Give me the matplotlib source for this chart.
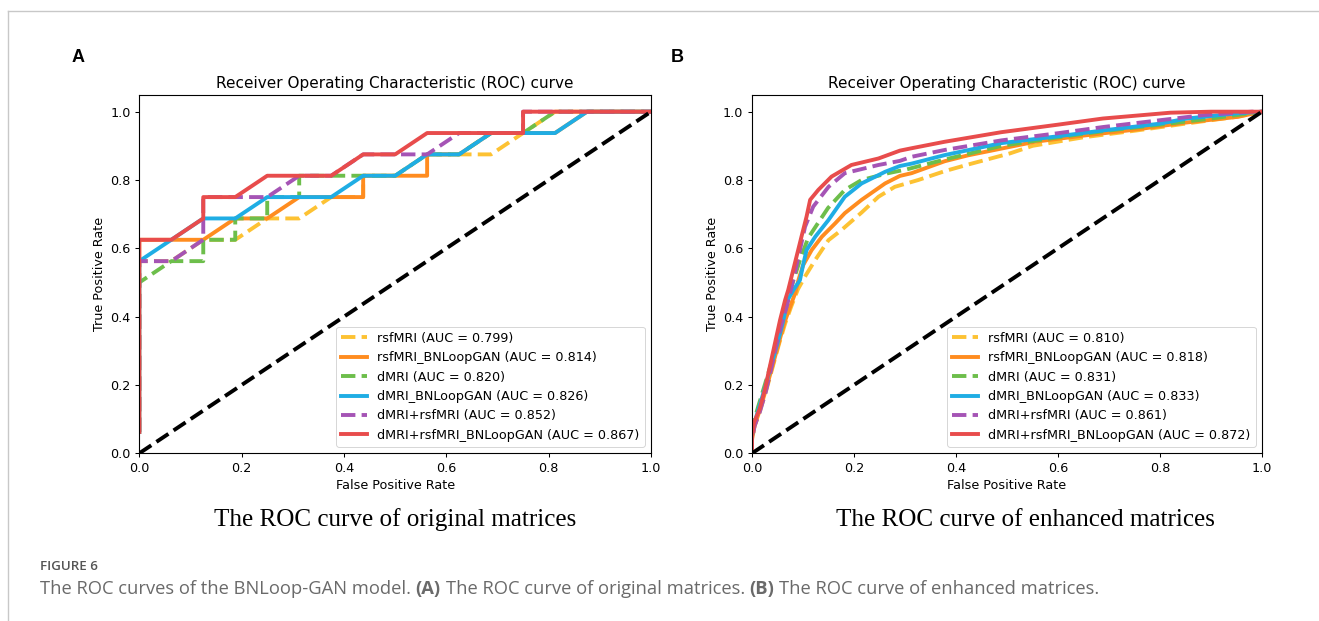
import matplotlib
matplotlib.use("Agg")
import matplotlib.pyplot as plt
from matplotlib.lines import Line2D

W, H = 1319, 621

# ---------------- data: panel A (original matrices) ----------------
a_labels = ["rsfMRI (AUC = 0.799)", "rsfMRI_BNLoopGAN (AUC = 0.814)", "dMRI (AUC = 0.820)",
            "dMRI_BNLoopGAN (AUC = 0.826)", "dMRI+rsfMRI (AUC = 0.852)",
            "dMRI+rsfMRI_BNLoopGAN (AUC = 0.867)"]
a_fpr_rsf = [0, 0, 0.0625, 0.125, 0.1875, 0.25, 0.3125, 0.375, 0.4375, 0.4375, 0.5, 0.5625, 0.6875, 0.75, 0.8125, 1.0]
a_tpr_rsf = [0.0625, 0.5625, 0.5625, 0.625, 0.625, 0.6875, 0.6875, 0.75, 0.75, 0.8125, 0.8125, 0.875, 0.875, 0.9375, 1.0, 1.0]
a_fpr_rsfg = [0, 0, 0.125, 0.1875, 0.25, 0.3125, 0.4375, 0.4375, 0.5625, 0.5625, 0.625, 0.6875, 0.8125, 0.875, 1.0]
a_tpr_rsfg = [0.0625, 0.625, 0.625, 0.6875, 0.6875, 0.75, 0.75, 0.8125, 0.8125, 0.875, 0.875, 0.9375, 0.9375, 1.0, 1.0]
a_fpr_dm = [0, 0, 0.0625, 0.125, 0.125, 0.1875, 0.1875, 0.25, 0.25, 0.3125, 0.3125, 0.5, 0.5625, 0.625, 0.6875, 0.75, 0.8125, 1.0]
a_tpr_dm = [0.0625, 0.5, 0.5625, 0.5625, 0.625, 0.625, 0.6875, 0.6875, 0.75, 0.75, 0.8125, 0.8125, 0.875, 0.875, 0.9375, 0.9375, 1.0, 1.0]
a_fpr_dmg = [0, 0, 0.125, 0.1875, 0.25, 0.375, 0.4375, 0.5, 0.5625, 0.625, 0.6875, 0.8125, 0.875, 1.0]
a_tpr_dmg = [0.0625, 0.5625, 0.6875, 0.6875, 0.75, 0.75, 0.8125, 0.8125, 0.875, 0.875, 0.9375, 0.9375, 1.0, 1.0]
a_fpr_both = [0, 0, 0.0625, 0.125, 0.125, 0.25, 0.3125, 0.375, 0.4375, 0.5625, 0.625, 0.75, 0.75, 1.0]
a_tpr_both = [0.0625, 0.5625, 0.5625, 0.625, 0.75, 0.75, 0.8125, 0.8125, 0.875, 0.875, 0.9375, 0.9375, 1.0, 1.0]
a_fpr_bothg = [0, 0, 0.0625, 0.125, 0.125, 0.1875, 0.25, 0.375, 0.4375, 0.5, 0.5625, 0.75, 0.75, 1.0]
a_tpr_bothg = [0.0625, 0.625, 0.625, 0.6875, 0.75, 0.75, 0.8125, 0.8125, 0.875, 0.875, 0.9375, 0.9375, 1.0, 1.0]

# ---------------- data: panel B (enhanced matrices) ----------------
b_labels = ["rsfMRI (AUC = 0.810)", "rsfMRI_BNLoopGAN (AUC = 0.818)", "dMRI (AUC = 0.831)",
            "dMRI_BNLoopGAN (AUC = 0.833)", "dMRI+rsfMRI (AUC = 0.861)",
            "dMRI+rsfMRI_BNLoopGAN (AUC = 0.872)"]
b_fpr_rsf = [0, 0, 0.005, 0.016, 0.029, 0.041, 0.053, 0.065, 0.077, 0.09, 0.105, 0.124, 0.15, 0.175, 0.215,
             0.248, 0.28, 0.326, 0.378, 0.423, 0.506, 0.55, 0.65, 0.754, 0.85, 0.95, 1.0]
b_tpr_rsf = [0, 0.04, 0.08, 0.125, 0.19, 0.255, 0.32, 0.38, 0.43, 0.48, 0.52, 0.566, 0.624, 0.653, 0.705,
             0.751, 0.78, 0.80, 0.826, 0.845, 0.878, 0.9, 0.925, 0.945, 0.965, 0.985, 1.0]
b_fpr_rsfg = [0, 0, 0.005, 0.015, 0.028, 0.04, 0.052, 0.063, 0.075, 0.085, 0.091, 0.1, 0.117, 0.137, 0.163,
              0.182, 0.215, 0.261, 0.29, 0.313, 0.378, 0.423, 0.555, 0.65, 0.754, 0.85, 0.953, 1.0]
b_tpr_rsfg = [0, 0.04, 0.08, 0.125, 0.19, 0.255, 0.32, 0.38, 0.43, 0.47, 0.507, 0.55, 0.595, 0.634, 0.673,
              0.703, 0.742, 0.79, 0.812, 0.82, 0.855, 0.872, 0.912, 0.93, 0.948, 0.968, 0.985, 1.0]
b_fpr_dm = [0, 0, 0.005, 0.012, 0.025, 0.037, 0.048, 0.058, 0.068, 0.08, 0.095, 0.11, 0.129, 0.149, 0.182,
            0.215, 0.267, 0.303, 0.378, 0.489, 0.6, 0.7, 0.8, 0.9, 1.0]
b_tpr_dm = [0, 0.06, 0.1, 0.136, 0.2, 0.26, 0.32, 0.38, 0.44, 0.5, 0.57, 0.63, 0.673, 0.718, 0.771,
            0.8, 0.82, 0.831, 0.86, 0.9, 0.925, 0.945, 0.962, 0.98, 1.0]
b_fpr_dmg = [0, 0, 0.005, 0.015, 0.027, 0.038, 0.05, 0.06, 0.07, 0.082, 0.094, 0.1, 0.107, 0.124, 0.15,
             0.182, 0.215, 0.261, 0.29, 0.313, 0.378, 0.489, 0.6, 0.688, 0.8, 0.853, 0.95, 1.0]
b_tpr_dmg = [0, 0.05, 0.09, 0.14, 0.2, 0.26, 0.322, 0.38, 0.449, 0.48, 0.507, 0.55, 0.595, 0.634, 0.683,
             0.751, 0.79, 0.824, 0.841, 0.848, 0.873, 0.908, 0.928, 0.945, 0.965, 0.98, 0.995, 1.0]
b_fpr_both = [0, 0, 0.005, 0.015, 0.027, 0.038, 0.048, 0.058, 0.068, 0.084, 0.094, 0.104, 0.12, 0.15, 0.182,
              0.248, 0.29, 0.313, 0.378, 0.489, 0.6, 0.688, 0.8, 0.886, 0.98, 1.0]
b_tpr_both = [0, 0.04, 0.08, 0.12, 0.18, 0.25, 0.32, 0.38, 0.429, 0.527, 0.595, 0.663, 0.722, 0.78, 0.82,
              0.844, 0.856, 0.868, 0.888, 0.916, 0.937, 0.955, 0.975, 0.99, 1.0, 1.0]
b_fpr_bothg = [0, 0, 0.004, 0.015, 0.025, 0.035, 0.045, 0.055, 0.065, 0.071, 0.084, 0.097, 0.107, 0.114, 0.13,
               0.156, 0.195, 0.248, 0.29, 0.313, 0.378, 0.489, 0.6, 0.688, 0.82, 0.9, 1.0]
b_tpr_bothg = [0, 0.05, 0.09, 0.13, 0.185, 0.254, 0.322, 0.39, 0.449, 0.478, 0.556, 0.634, 0.693, 0.742, 0.771,
               0.81, 0.844, 0.863, 0.886, 0.893, 0.912, 0.94, 0.962, 0.98, 0.997, 1.0, 1.0]

colors = ["#FDC233", "#FF8C1F", "#6DBE4B", "#1FADE4", "#A554B5", "#E84C4C"]
styles = ["--", "-", "--", "-", "--", "-"]

a_series = [(a_fpr_rsf, a_tpr_rsf), (a_fpr_rsfg, a_tpr_rsfg), (a_fpr_dm, a_tpr_dm),
            (a_fpr_dmg, a_tpr_dmg), (a_fpr_both, a_tpr_both), (a_fpr_bothg, a_tpr_bothg)]
b_series = [(b_fpr_rsf, b_tpr_rsf), (b_fpr_rsfg, b_tpr_rsfg), (b_fpr_dm, b_tpr_dm),
            (b_fpr_dmg, b_tpr_dmg), (b_fpr_both, b_tpr_both), (b_fpr_bothg, b_tpr_bothg)]

plt.rcParams['font.family'] = ['DejaVu Sans']
fig = plt.figure(figsize=(W / 100, H / 100), dpi=100)
fig.patch.set_facecolor("white")

bottom = (H - 453.3) / H
height = (453.3 - 94.6) / H
axA = fig.add_axes([139.3 / W, bottom, (651 - 139.3) / W, height])
axB = fig.add_axes([752 / W, bottom, (1262 - 752) / W, height])

FS = 9.2
for ax, series, labels in [(axA, a_series, a_labels), (axB, b_series, b_labels)]:
    for (f, t), lab, c, ls in zip(series, labels, colors, styles):
        ax.plot(f, t, ls, color=c, lw=2.8, label=lab, solid_joinstyle="round")
    ax.plot([0, 1], [0, 1], "k--", lw=2.8)
    ax.set_xlim(0, 1)
    ax.set_ylim(0, 1.05)
    ax.set_xticks([0, 0.2, 0.4, 0.6, 0.8, 1.0])
    ax.set_yticks([0, 0.2, 0.4, 0.6, 0.8, 1.0])
    ax.tick_params(labelsize=FS, length=3.2, width=0.75, pad=3)
    for sp in ax.spines.values():
        sp.set_linewidth(0.8)
    ax.set_xlabel("False Positive Rate", fontsize=FS, labelpad=3)
    ax.set_ylabel("True Positive Rate", fontsize=FS, labelpad=3)
    ax.set_title("Receiver Operating Characteristic (ROC) curve", fontsize=11, pad=5)
    leg = ax.legend(loc="lower right", fontsize=FS, handlelength=2.0, borderaxespad=0.5,
                    labelspacing=0.5, fancybox=True)
    leg.get_frame().set_linewidth(0.7)

# panel letters
fig.text(78 / W, 1 - 58 / H, "A", fontsize=13, fontweight="bold", ha="center", va="center",
         family="Liberation Sans")
fig.text(677 / W, 1 - 58 / H, "B", fontsize=13, fontweight="bold", ha="center", va="center",
         family="Liberation Sans")

# sub captions
fig.text(395 / W, 1 - 520 / H, "The ROC curve of original matrices", fontsize=18.1,
         family="Liberation Serif", ha="center", va="center")
fig.text(1025 / W, 1 - 520 / H, "The ROC curve of enhanced matrices", fontsize=18.1,
         family="Liberation Serif", ha="center", va="center")

# figure caption
fig.text(40 / W, 1 - 566 / H, "FIGURE 6", fontsize=9.6, family="Open Sans", fontweight="semibold",
         color="#555555", ha="left", va="center")

renderer = fig.canvas.get_renderer()
pieces = [("The ROC curves of the BNLoop-GAN model.", "normal"), ("(A)", "bold"),
          ("The ROC curve of original matrices.", "normal"), ("(B)", "bold"),
          ("The ROC curve of enhanced matrices.", "normal")]
cap_fs = 13.25
t1 = fig.text(0, 0, "x x", fontsize=cap_fs, family="Open Sans")
t2 = fig.text(0, 0, "xx", fontsize=cap_fs, family="Open Sans")
space_w = t1.get_window_extent(renderer).width - t2.get_window_extent(renderer).width
t1.remove(); t2.remove()
x = 40.0
for txt, wt in pieces:
    t = fig.text(x / W, 1 - 589 / H, txt, fontsize=cap_fs, family="Open Sans", fontweight=wt,
                 color="#6a6a6a", ha="left", va="center")
    x += t.get_window_extent(renderer).width + space_w

# page frame lines
fig.add_artist(Line2D([8 / W, 1], [1 - 10.5 / H, 1 - 10.5 / H], transform=fig.transFigure,
                      color="#c8c8c8", lw=1))
fig.add_artist(Line2D([8 / W, 8 / W], [0, 1 - 10.5 / H], transform=fig.transFigure,
                      color="#c8c8c8", lw=1))

fig.savefig("out.png", dpi=100)
